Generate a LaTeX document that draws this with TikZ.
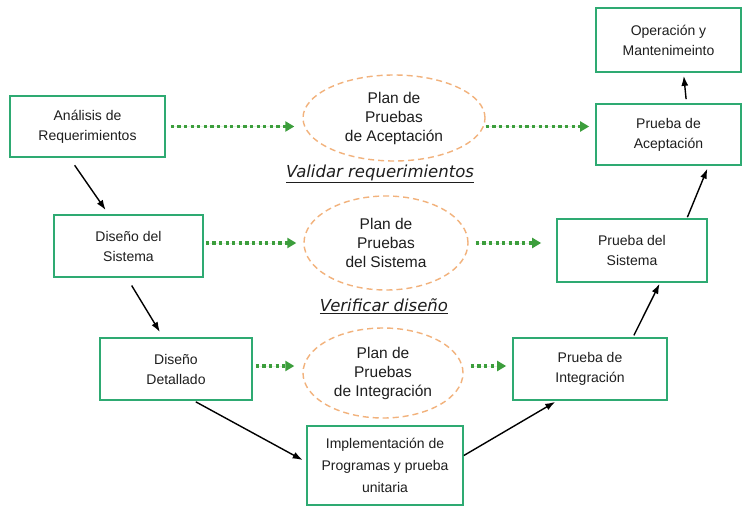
\documentclass[tikz,border=0pt]{standalone}
\usepackage{fontspec}
\setmainfont{Liberation Sans}
\newfontfamily\etiqfont{DejaVu Sans}
\usetikzlibrary{shapes.geometric,arrows.meta}
\definecolor{verdeCaja}{HTML}{2EAA72}
\definecolor{verdePunto}{HTML}{3C9E3C}
\definecolor{naranja}{HTML}{F2B27C}
\definecolor{texto}{HTML}{1E1E1E}
\tikzset{
  caja/.style={draw=verdeCaja, line width=1.7pt, align=center, text=texto,
    font=\fontsize{14}{20}\selectfont, inner sep=0pt},
  plan/.style={ellipse, draw=naranja, line width=1.4pt, dash pattern=on 6pt off 4pt,
    align=center, text=texto, font=\fontsize{15.5}{19}\selectfont, inner sep=0pt},
  flecha/.style={-{Latex[length=10pt,width=7pt]}, line width=1.4pt, black},
  punteada/.style={-{Triangle[length=9pt,width=10pt]}, draw=verdePunto, fill=verdePunto,
    line width=3.2pt, dash pattern=on 3.2pt off 3.4pt},
  etiqueta/.style={text=texto, font=\etiqfont\itshape\fontsize{16.5}{18}\selectfont}
}
\begin{document}
\begin{tikzpicture}[x=1pt, y=-1pt]
\useasboundingbox[fill=white] (0,0) rectangle (743,508);
% cajas del lado izquierdo
\node[caja, minimum width=155pt, minimum height=61pt] (analisis) at (87.5,126.5) {An\'alisis de\\Requerimientos};
\node[caja, minimum width=149pt, minimum height=62pt] (disSis) at (128.5,246) {Dise\~no del\\Sistema};
\node[caja, minimum width=152pt, minimum height=62pt] (disDet) at (176,369) {Dise\~no\\Detallado};
\node[caja, minimum width=156pt, minimum height=79pt, font=\fontsize{14}{22}\selectfont] (implem) at (385,465.5) {Implementaci\'on de\\Programas y prueba\\unitaria};
% cajas del lado derecho
\node[caja, minimum width=154pt, minimum height=62pt] (pruInt) at (590,369) {Prueba de\\Integraci\'on};
\node[caja, minimum width=150pt, minimum height=63pt] (pruSis) at (632,250.5) {Prueba del\\Sistema};
\node[caja, minimum width=145pt, minimum height=61pt] (pruAce) at (668.5,134.5) {Prueba de\\Aceptaci\'on};
\node[caja, minimum width=145pt, minimum height=64pt] (operac) at (668.5,40) {Operaci\'on y\\Mantenimeinto};
% planes de pruebas
\node[plan, minimum width=182pt, minimum height=86pt] (planAce) at (394,118) {Plan de\\Pruebas\\de Aceptaci\'on};
\node[plan, minimum width=164pt, minimum height=94pt] (planSis) at (386,243) {Plan de\\Pruebas\\del Sistema};
\node[plan, minimum width=160pt, minimum height=90pt] (planInt) at (383,373) {Plan de\\Pruebas\\de Integraci\'on};
\node[etiqueta] (validar) at (380,174) {\underline{Validar requerimientos}};
\node[etiqueta] (verificar) at (384,306) {\underline{Verificar dise\~no}};
% flechas punteadas
\draw[punteada, shorten <=5pt, shorten >=8pt] (analisis) -- (analisis -| planAce.west);
\draw[punteada, shorten <=0pt, shorten >=6pt] (planAce.east |- analisis) -- (pruAce.west |- analisis);
\draw[punteada, shorten <=2pt, shorten >=7pt] (disSis.east |- planSis) -- (planSis.west);
\draw[punteada, shorten <=7pt, shorten >=15pt] (planSis.east) -- (pruSis.west |- planSis);
\draw[punteada, shorten <=3pt, shorten >=8pt] (disDet.east |- 0,366) -- (planInt.west |- 0,366);
\draw[punteada, shorten <=7pt, shorten >=6pt] (planInt.east |- 0,366) -- (pruInt.west |- 0,366);
% flechas del ciclo
\draw[flecha, shorten <=9pt, shorten >=5pt] ([xshift=-18pt]analisis.south) -- ([xshift=-20pt]disSis.north);
\draw[flecha, shorten <=9pt, shorten >=6pt] ([xshift=-1.5pt]disSis.south) -- ([xshift=-13pt]disDet.north);
\draw[flecha, shorten <=2pt, shorten >=4pt] ([xshift=18pt]disDet.south) -- ([yshift=3.5pt]implem.west);
\draw[flecha, shorten >=2pt] ([yshift=10pt]implem.east) -- ([xshift=-33pt]pruInt.south);
\draw[flecha, shorten <=2pt, shorten >=1pt] ([xshift=43pt]pruInt.north) -- ([xshift=28pt]pruSis.south);
\draw[flecha, shorten <=1pt, shorten >=3pt] ([xshift=55pt]pruSis.north) -- ([xshift=40pt]pruAce.south);
\draw[flecha, shorten <=4pt, shorten >=3pt] ([xshift=18pt]pruAce.north) -- ([xshift=15pt]operac.south);
\end{tikzpicture}
\end{document}
